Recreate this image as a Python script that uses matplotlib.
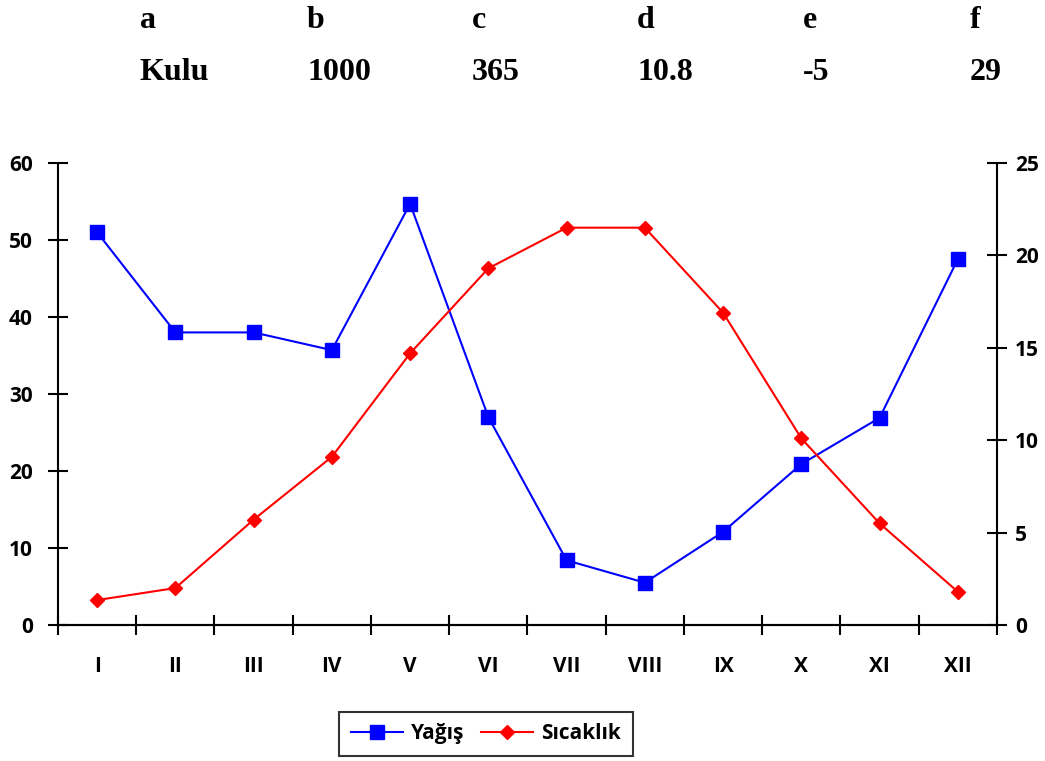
import matplotlib
matplotlib.use('Agg')
import matplotlib.pyplot as plt
from matplotlib.ticker import FixedLocator, NullFormatter

# Monthly precipitation (mm) and temperature (°C) for Kulu
months = ['I', 'II', 'III', 'IV', 'V', 'VI', 'VII', 'VIII', 'IX', 'X', 'XI', 'XII']
yagis = [51.0, 38.0, 38.0, 35.7, 54.7, 27.0, 8.4, 5.5, 12.1, 20.9, 26.9, 47.5]
sicaklik = [1.35, 2.0, 5.7, 9.1, 14.7, 19.3, 21.5, 21.5, 16.9, 10.1, 5.5, 1.8]

header_keys = ['a', 'b', 'c', 'd', 'e', 'f']
header_vals = ['Kulu', '1000', '365', '10.8', '-5', '29']

SANS = 'Open Sans'

fig = plt.figure(figsize=(10.45, 7.61), dpi=100)
ax = fig.add_axes([0.0555, 0.1787, 0.8985, 0.6071])
ax2 = ax.twinx()

x = list(range(1, len(months) + 1))
l1, = ax.plot(x, yagis, color='#0000ff', lw=1.5, marker='s', markersize=10,
              label='Yağış', zorder=3)
l2, = ax2.plot(x, sicaklik, color='#ff0000', lw=1.5, marker='D', markersize=7,
               label='Sıcaklık', zorder=3)

ax.set_xlim(0.5, len(months) + 0.5)
ax.set_ylim(0, 60)
ax2.set_ylim(0, 25)
ax.set_yticks(range(0, 61, 10))
ax2.set_yticks(range(0, 26, 5))

# month boundaries get the tick marks, month centres get the labels
ax.xaxis.set_major_locator(FixedLocator([i + 0.5 for i in range(0, len(months) + 1)]))
ax.xaxis.set_major_formatter(NullFormatter())
ax.xaxis.set_minor_locator(FixedLocator(x))
ax.set_xticklabels(months, minor=True)
ax.tick_params(axis='x', which='major', direction='inout', length=14, width=1.5)
ax.tick_params(axis='x', which='minor', length=0, pad=22)
ax.tick_params(axis='y', direction='inout', length=14, width=1.5, pad=11)
ax2.tick_params(axis='y', direction='inout', length=14, width=1.5, pad=6)

for lbl in ax.get_xticklabels(minor=True) + ax.get_yticklabels() + ax2.get_yticklabels():
    lbl.set_fontfamily(SANS)
    lbl.set_fontweight('bold')
    lbl.set_fontsize(15)

for a in (ax, ax2):
    a.spines['top'].set_visible(False)
    for s in ('left', 'right', 'bottom'):
        a.spines[s].set_linewidth(1.5)
ax.spines['right'].set_visible(False)
ax2.spines['left'].set_visible(False)

leg = fig.legend(handles=[l1, l2], ncol=2, loc='center', bbox_to_anchor=(0.465, 0.0355),
                 frameon=True, fancybox=False, edgecolor='black', handlelength=2.5,
                 columnspacing=0.8, handletextpad=0.4, borderpad=0.55, borderaxespad=0,
                 prop=dict(family=SANS, weight='bold', size=15))
leg.get_frame().set_linewidth(1.5)

# station summary table at the top
col_x = [140, 307, 472, 637, 803, 970]
for k, v, cx in zip(header_keys, header_vals, col_x):
    fig.text(cx / 1045, 1 - 20 / 761, k, family='Liberation Serif', weight='bold',
             size=23, ha='left', va='center')
    fig.text(cx / 1045, 1 - 73 / 761, v, family='Liberation Serif', weight='bold',
             size=23, ha='left', va='center')

fig.savefig('out.png', dpi=100)
